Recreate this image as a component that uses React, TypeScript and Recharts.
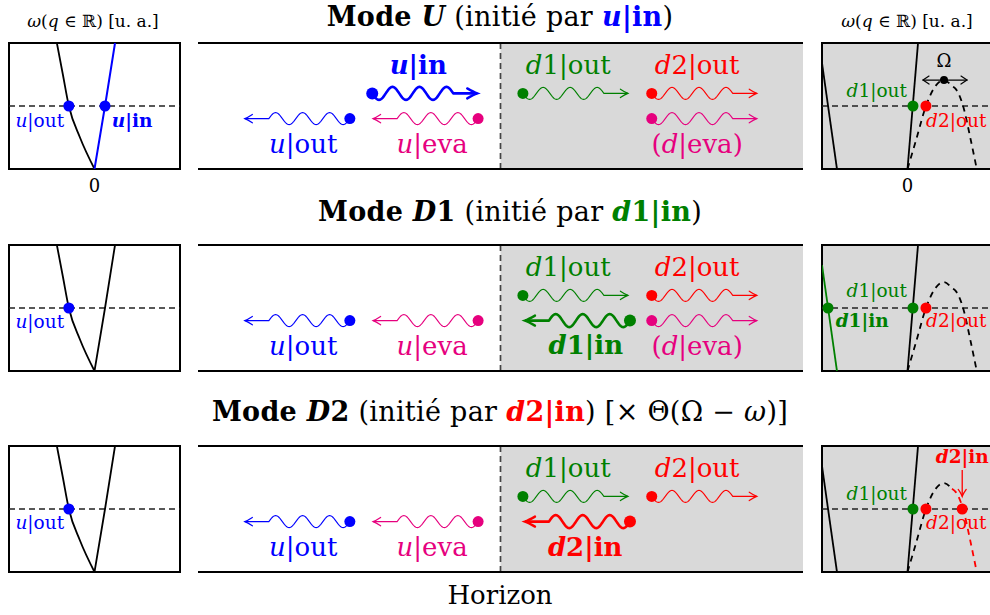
import { ComposedChart, Line, Scatter, XAxis, YAxis, ReferenceLine, ReferenceArea } from 'recharts';

const FONT = '"DejaVu Serif", "Liberation Serif", serif';
const COLORS: Record<string, string> = { u: '#0000ff', d1: '#008000', d2: '#ff0000', eva: '#e6007e', peak: '#000' };
const GRAY = '#d9d9d9';

// ---- insets: ω(q), q in [-1, 1] (0 at centre), ω in [0, 1]
const OMEGA0 = 0.5; // frequency of the scattered wave (dashed line)

// outside the horizon (left insets)
const outsideCounter = [
  { q: -0.44, w: 1 }, { q: -0.37, w: 0.75 }, { q: -0.3, w: 0.5 }, { q: -0.17, w: 0.25 }, { q: 0, w: 0 },
];
const outsideCo = [{ q: 0, w: 0 }, { q: 0.123, w: 0.5 }, { q: 0.24, w: 1 }];

// inside the horizon (right insets)
const insideNeg = [{ q: -1, w: 0.84 }, { q: -0.825, w: 0 }];
const insideD1 = [{ q: 0, w: 0 }, { q: 0.123, w: 1 }];
const insideD2Rising = [
  { q: 0, w: 0 }, { q: 0.1, w: 0.23 }, { q: 0.216, w: 0.5 }, { q: 0.3, w: 0.63 }, { q: 0.427, w: 0.706 }, { q: 0.52, w: 0.66 },
];
const insideD2Falling = [
  { q: 0.52, w: 0.66 }, { q: 0.57, w: 0.63 }, { q: 0.65, w: 0.5 }, { q: 0.74, w: 0.23 }, { q: 0.81, w: 0 },
];
const insideD2 = [...insideD2Rising, ...insideD2Falling.slice(1)];

const omegaPeak = [{ q: 0.427, w: 0.706, mode: 'peak' }];
const omegaTag = [{ q: 0.427, w: 0.81, text: 'Ω' }];
const d2Pointer = [{ q: 0.64, w: 0.81 }, { q: 0.64, w: 0.6 }];
const d2PointerTip = [{ q: 0.64, w: 0.6 }];

const leftDotsU = [{ q: -0.3, w: OMEGA0, mode: 'u' }, { q: 0.123, w: OMEGA0, mode: 'u' }];
const leftDotsD = [{ q: -0.3, w: OMEGA0, mode: 'u' }];
const rightDotsU = [{ q: 0.064, w: OMEGA0, mode: 'd1' }, { q: 0.216, w: OMEGA0, mode: 'd2' }];
const rightDotsD1 = [{ q: -0.93, w: OMEGA0, mode: 'd1' }, ...rightDotsU];
const rightDotsD2 = [...rightDotsU, { q: 0.64, w: OMEGA0, mode: 'd2' }];

const leftTagsU = [{ q: -0.64, w: 0.333, mode: 'u|out' }, { q: 0.44, w: 0.333, mode: 'u|in' }];
const leftTagsD = [{ q: -0.64, w: 0.34, mode: 'u|out' }];
const rightTagsU = [{ q: -0.36, w: 0.57, mode: 'd1|out' }, { q: 0.57, w: 0.333, mode: 'd2|out' }];
const rightTagsD1 = [
  { q: -0.36, w: 0.587, mode: 'd1|out' }, { q: -0.53, w: 0.35, mode: 'd1|in' }, { q: 0.57, w: 0.35, mode: 'd2|out' },
];
const rightTagsD2 = [
  { q: -0.36, w: 0.575, mode: 'd1|out' }, { q: 0.57, w: 0.34, mode: 'd2|out' }, { q: 0.64, w: 0.866, mode: 'd2|in' },
];

// ---- flow panels: x along the flow (0..100, horizon at 50), y across (0..100)
const HORIZON = 50;
const wavesU = [
  { mode: 'u|in', x: 28.8, y: 60, dir: 1 },
  { mode: 'u|out', x: 25.1, y: 40, dir: -1 },
  { mode: 'u|eva', x: 46.3, y: 40, dir: -1 },
  { mode: 'd1|out', x: 53.7, y: 60, dir: 1 },
  { mode: 'd2|out', x: 75, y: 60, dir: 1 },
  { mode: 'd|eva', x: 75, y: 40, dir: 1 },
];
const wavesD1 = [
  { mode: 'u|out', x: 25.1, y: 40, dir: -1 },
  { mode: 'u|eva', x: 46.3, y: 40, dir: -1 },
  { mode: 'd1|out', x: 53.7, y: 60, dir: 1 },
  { mode: 'd2|out', x: 75, y: 60, dir: 1 },
  { mode: 'd1|in', x: 71.4, y: 40, dir: -1 },
  { mode: 'd|eva', x: 75, y: 40, dir: 1 },
];
const wavesD2 = [
  { mode: 'u|out', x: 25.1, y: 40, dir: -1 },
  { mode: 'u|eva', x: 46.3, y: 40, dir: -1 },
  { mode: 'd1|out', x: 53.7, y: 60, dir: 1 },
  { mode: 'd2|out', x: 75, y: 60, dir: 1 },
  { mode: 'd2|in', x: 71.4, y: 40, dir: -1 },
];
const tagsU = [
  { mode: 'u|in', x: 36.4, y: 75.4 },
  { mode: 'u|out', x: 17.4, y: 12.7 },
  { mode: 'u|eva', x: 38.7, y: 12.7 },
  { mode: 'd1|out', x: 61.2, y: 75.4 },
  { mode: 'd2|out', x: 82.5, y: 75.4 },
  { mode: '(d|eva)', x: 82.5, y: 12.7 },
];
const tagsD1 = [
  { mode: 'u|out', x: 17.4, y: 12.7 },
  { mode: 'u|eva', x: 38.7, y: 12.7 },
  { mode: 'd1|out', x: 61.2, y: 75.4 },
  { mode: 'd2|out', x: 82.5, y: 75.4 },
  { mode: 'd1|in', x: 64.1, y: 13.5 },
  { mode: '(d|eva)', x: 82.5, y: 12.7 },
];
const tagsD2 = [
  { mode: 'u|out', x: 17.4, y: 12.7 },
  { mode: 'u|eva', x: 38.7, y: 12.7 },
  { mode: 'd1|out', x: 61.2, y: 75.4 },
  { mode: 'd2|out', x: 82.5, y: 75.4 },
  { mode: 'd2|in', x: 64, y: 13 },
];

const SIDE_W = 171;
const PANEL_H = 126;
const PAD = 2;
const ROW_TOPS = [43, 245, 446];

function modeLook(mode: string) {
  const paren = mode.startsWith('(');
  const [branch, kind] = mode.replace(/[()]/g, '').split('|');
  return {
    paren,
    letter: branch[0],
    index: branch.slice(1),
    kind,
    bold: kind === 'in',
    color: kind === 'eva' ? COLORS.eva : COLORS[branch],
  };
}

function ModeTag(props: any) {
  const { cx, cy, payload, size } = props;
  if (cx == null || cy == null) return null;
  if (payload.text) {
    return (
      <text x={cx} y={cy} textAnchor="middle" fontSize={size} fontFamily={FONT} fill="#000">
        {payload.text}
      </text>
    );
  }
  const m = modeLook(payload.mode);
  return (
    <text x={cx} y={cy} textAnchor="middle" fontSize={size} fontFamily={FONT} fill={m.color}
      fontWeight={m.bold ? 'bold' : 'normal'}>
      {m.paren ? '(' : ''}
      <tspan fontStyle="italic">{m.letter}</tspan>
      <tspan>{`${m.index}|${m.kind}`}</tspan>
      {m.paren ? ')' : ''}
    </text>
  );
}

function DotShape(props: any) {
  const { cx, cy, payload } = props;
  if (cx == null) return null;
  return <circle cx={cx} cy={cy} r={5.5} fill={COLORS[payload.mode]} />;
}

function PeakMarker(props: any) {
  const { cx, cy } = props;
  if (cx == null) return null;
  const a = cx - 21, b = cx + 23;
  return (
    <g stroke="#000" strokeWidth={1.2} fill="none" strokeLinecap="round">
      <path d={`M${a},${cy} L${b},${cy}`} />
      <path d={`M${a + 6},${cy - 4} L${a},${cy} L${a + 6},${cy + 4}`} />
      <path d={`M${b - 6},${cy - 4} L${b},${cy} L${b - 6},${cy + 4}`} />
      <circle cx={cx} cy={cy} r={4} fill="#000" stroke="none" />
    </g>
  );
}

function DownHead(props: any) {
  const { cx, cy } = props;
  if (cx == null) return null;
  return (
    <path d={`M${cx - 4},${cy - 7} Q${cx - 1},${cy - 3} ${cx},${cy} Q${cx + 1},${cy - 3} ${cx + 4},${cy - 7}`}
      stroke={COLORS.d2} strokeWidth={1.3} fill="none" strokeLinecap="round" />
  );
}

function WavePacket(props: any) {
  const { cx, cy, payload } = props;
  if (cx == null) return null;
  const m = modeLook(payload.mode);
  const d = payload.dir;
  const amp = m.bold ? 6.5 : 6;
  const period = 27;
  const waveLen = 81;
  const total = 105;
  let path = `M${cx},${cy}`;
  for (let i = 1; i <= 108; i++) {
    const s = (i * waveLen) / 108;
    path += ` L${(cx + d * s).toFixed(2)},${(cy + amp * Math.sin((2 * Math.PI * s) / period)).toFixed(2)}`;
  }
  const tip = cx + d * total;
  path += ` L${tip},${cy}`;
  const hl = m.bold ? 10 : 7.5;
  const hw = m.bold ? 5 : 4.2;
  const head = `M${tip - d * hl},${cy - hw} Q${tip - d * hl * 0.35},${cy - hw * 0.25} ${tip},${cy} Q${tip - d * hl * 0.35},${cy + hw * 0.25} ${tip - d * hl},${cy + hw}`;
  return (
    <g>
      <path d={path} fill="none" stroke={m.color} strokeWidth={m.bold ? 2.6 : 1.1} strokeLinejoin="round" />
      <path d={head} fill="none" stroke={m.color} strokeWidth={m.bold ? 2.4 : 1.2} strokeLinecap="round" />
      <circle cx={cx} cy={cy} r={m.bold ? 6 : 5.5} fill={m.color} />
    </g>
  );
}

type Curve = { data: { q: number; w: number }[]; color: string; dashed?: boolean; width?: number };

function Inset({ x, y, shaded, zero, curves, dots, tags, children }: {
  x: number; y: number; shaded?: boolean; zero?: boolean; curves: Curve[];
  dots: any[]; tags: any[]; children?: any;
}) {
  return (
    <div style={{ position: 'absolute', left: x - PAD, top: y - PAD }}>
      <ComposedChart width={SIDE_W + 2 * PAD} height={PANEL_H + 2 * PAD + (zero ? 30 : 0)}
        margin={{ top: PAD, right: PAD, bottom: PAD, left: PAD }}>
        <XAxis type="number" dataKey="q" domain={[-1, 1]} allowDataOverflow hide={!zero} ticks={[0]}
          axisLine={false} tickLine={false} height={30} tickMargin={4}
          tick={{ fontSize: 18, fill: '#000', fontFamily: FONT }} />
        <YAxis type="number" dataKey="w" domain={[0, 1]} allowDataOverflow hide />
        <ReferenceArea x1={-1} x2={1} y1={0} y2={1} fill={shaded ? GRAY : '#fff'} fillOpacity={1} stroke="none" />
        <ReferenceLine y={OMEGA0} stroke="#222" strokeDasharray="6 4" strokeWidth={1.3} />
        {curves.map((c, i) => (
          <Line key={i} data={c.data} dataKey="w" type="monotone" stroke={c.color} strokeWidth={c.width ?? 1.8}
            strokeDasharray={c.dashed ? '6 5' : undefined} dot={false} activeDot={false} isAnimationActive={false} />
        ))}
        {children}
        <Scatter data={dots} shape={DotShape} isAnimationActive={false} />
        <Scatter data={tags} shape={(p: any) => <ModeTag {...p} size={18.5} />} isAnimationActive={false} />
        <ReferenceArea x1={-1} x2={1} y1={0} y2={1} fill="none" fillOpacity={0} stroke="#000" strokeWidth={2} />
      </ComposedChart>
    </div>
  );
}

function Flow({ y, waves, tags }: { y: number; waves: any[]; tags: any[] }) {
  return (
    <div style={{ position: 'absolute', left: 198, top: y - PAD }}>
      <ComposedChart width={605} height={PANEL_H + 2 * PAD} margin={{ top: PAD, right: 0, bottom: PAD, left: 0 }}>
        <XAxis type="number" dataKey="x" domain={[0, 100]} allowDataOverflow hide />
        <YAxis type="number" dataKey="y" domain={[0, 100]} allowDataOverflow hide />
        <ReferenceArea x1={HORIZON} x2={100} y1={0} y2={100} fill={GRAY} fillOpacity={1} stroke="none" />
        <ReferenceLine x={HORIZON} stroke="#444" strokeDasharray="6 4" strokeWidth={1.7} />
        <ReferenceLine y={0} stroke="#000" strokeWidth={2} />
        <ReferenceLine y={100} stroke="#000" strokeWidth={2} />
        <Scatter data={waves} shape={WavePacket} isAnimationActive={false} />
        <Scatter data={tags} shape={(p: any) => <ModeTag {...p} size={26} />} isAnimationActive={false} />
      </ComposedChart>
    </div>
  );
}

const black = '#000';

export default function App() {
  const outsideU: Curve[] = [
    { data: outsideCounter, color: black },
    { data: outsideCo, color: COLORS.u, width: 2 },
  ];
  const outsideD: Curve[] = [
    { data: outsideCounter, color: black },
    { data: outsideCo, color: black },
  ];
  const insideU: Curve[] = [
    { data: insideNeg, color: black },
    { data: insideD1, color: black },
    { data: insideD2, color: black, dashed: true },
  ];
  const insideDD1: Curve[] = [
    { data: insideNeg, color: COLORS.d1 },
    { data: insideD1, color: black },
    { data: insideD2, color: black, dashed: true },
  ];
  const insideDD2: Curve[] = [
    { data: insideNeg, color: black },
    { data: insideD1, color: black },
    { data: insideD2Rising, color: black, dashed: true },
    { data: insideD2Falling, color: COLORS.d2, dashed: true },
  ];

  return (
    <div style={{ position: 'absolute', left: 0, top: 0, width: 990, height: 615, overflow: 'hidden', background: '#fff', fontFamily: FONT }}>
      {/* Mode U */}
      <Inset x={9} y={ROW_TOPS[0]} zero curves={outsideU} dots={leftDotsU} tags={leftTagsU} />
      <Flow y={ROW_TOPS[0]} waves={wavesU} tags={tagsU} />
      <Inset x={822} y={ROW_TOPS[0]} zero shaded curves={insideU} dots={rightDotsU} tags={rightTagsU}>
        <Scatter data={omegaPeak} shape={PeakMarker} isAnimationActive={false} />
        <Scatter data={omegaTag} shape={(p: any) => <ModeTag {...p} size={18} />} isAnimationActive={false} />
      </Inset>

      {/* Mode D1 */}
      <Inset x={9} y={ROW_TOPS[1]} curves={outsideD} dots={leftDotsD} tags={leftTagsD} />
      <Flow y={ROW_TOPS[1]} waves={wavesD1} tags={tagsD1} />
      <Inset x={822} y={ROW_TOPS[1]} shaded curves={insideDD1} dots={rightDotsD1} tags={rightTagsD1} />

      {/* Mode D2 */}
      <Inset x={9} y={ROW_TOPS[2]} curves={outsideD} dots={leftDotsD} tags={leftTagsD} />
      <Flow y={ROW_TOPS[2]} waves={wavesD2} tags={tagsD2} />
      <Inset x={822} y={ROW_TOPS[2]} shaded curves={insideDD2} dots={rightDotsD2} tags={rightTagsD2}>
        <Line data={d2Pointer} dataKey="w" type="linear" stroke={COLORS.d2} strokeWidth={1.3} dot={false}
          activeDot={false} isAnimationActive={false} />
        <Scatter data={d2PointerTip} shape={DownHead} isAnimationActive={false} />
      </Inset>

      <svg width={990} height={615} style={{ position: 'absolute', left: 0, top: 0, pointerEvents: 'none' }}
        fontFamily={FONT}>
        <text x={93} y={27} textAnchor="middle" fontSize={17}>
          <tspan fontStyle="italic">ω</tspan>(<tspan fontStyle="italic">q</tspan> ∈ ℝ) [u. a.]
        </text>
        <text x={907} y={27} textAnchor="middle" fontSize={17}>
          <tspan fontStyle="italic">ω</tspan>(<tspan fontStyle="italic">q</tspan> ∈ ℝ) [u. a.]
        </text>

        <text x={500} y={26} textAnchor="middle" fontSize={27} letterSpacing={0.3}>
          <tspan fontWeight="bold">Mode </tspan>
          <tspan fontWeight="bold" fontStyle="italic">U</tspan>
          <tspan>{' (initié par '}</tspan>
          <tspan fontWeight="bold" fill={COLORS.u} fontStyle="italic">u</tspan>
          <tspan fontWeight="bold" fill={COLORS.u}>|in</tspan>
          <tspan>)</tspan>
        </text>
        <text x={510} y={221} textAnchor="middle" fontSize={27} letterSpacing={0.3}>
          <tspan fontWeight="bold">Mode </tspan>
          <tspan fontWeight="bold" fontStyle="italic">D</tspan>
          <tspan fontWeight="bold">1</tspan>
          <tspan>{' (initié par '}</tspan>
          <tspan fontWeight="bold" fill={COLORS.d1} fontStyle="italic">d</tspan>
          <tspan fontWeight="bold" fill={COLORS.d1}>1|in</tspan>
          <tspan>)</tspan>
        </text>
        <text x={500} y={421} textAnchor="middle" fontSize={27} letterSpacing={0.3}>
          <tspan fontWeight="bold">Mode </tspan>
          <tspan fontWeight="bold" fontStyle="italic">D</tspan>
          <tspan fontWeight="bold">2</tspan>
          <tspan>{' (initié par '}</tspan>
          <tspan fontWeight="bold" fill={COLORS.d2} fontStyle="italic">d</tspan>
          <tspan fontWeight="bold" fill={COLORS.d2}>2|in</tspan>
          <tspan>{') [× Θ(Ω − '}</tspan>
          <tspan fontStyle="italic">ω</tspan>
          <tspan>)]</tspan>
        </text>

        <text x={500} y={604} textAnchor="middle" fontSize={26}>Horizon</text>
      </svg>
    </div>
  );
}
